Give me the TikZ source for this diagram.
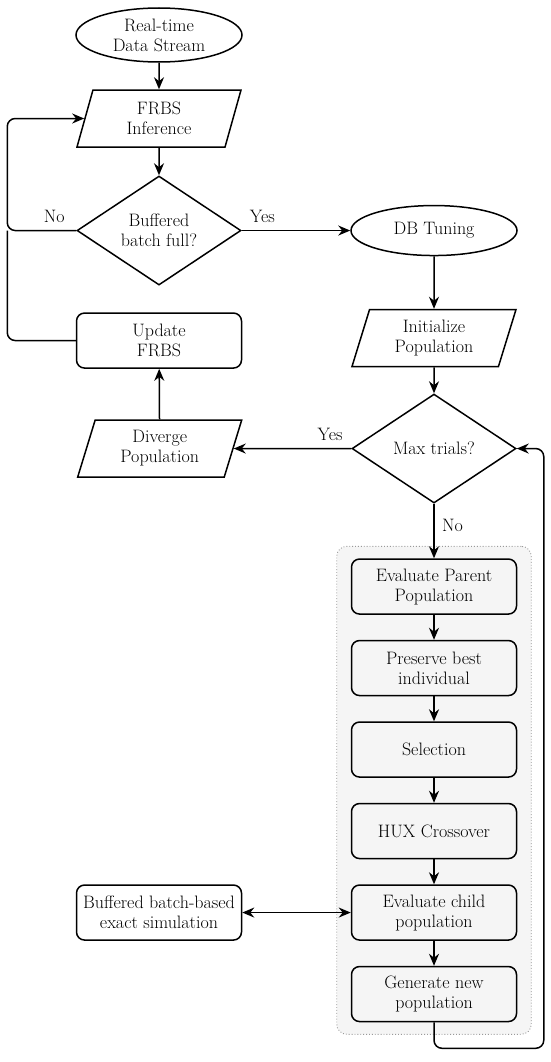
\documentclass[tikz,border=0pt]{standalone}
\usepackage{fontspec}
\usepackage{tikz}
\usetikzlibrary{shapes.geometric, arrows.meta}
\usetikzlibrary{shapes,positioning,fit,backgrounds}
\tikzstyle{arrow} = [line width=1.5pt,->,>={Stealth[length=12pt,width=10pt]}]
\tikzstyle{biarrow} = [line width=1.5pt,<->,>={Stealth[length=12pt,width=10pt]}]
\tikzstyle{line} = [line width=1.5pt]
\tikzstyle{startstop} = [ellipse, draw, line width=1.5pt, minimum width=166pt, inner sep=0pt, align=center]
\tikzstyle{io} = [trapezium, trapezium left angle=64, trapezium right angle=116, trapezium stretches body, draw, line width=1.5pt, minimum width=164pt, minimum height=57pt, inner sep=0pt, align=center]
\tikzstyle{decision} = [diamond, draw, line width=1.5pt, minimum width=164pt, minimum height=109pt, inner sep=0pt, align=center]
\tikzstyle{process} = [rectangle, rounded corners=8pt, draw, line width=1.5pt, minimum width=165pt, minimum height=55pt, align=center]

\begin{document}
\begin{tikzpicture}[x=1pt, y=1pt, every node/.style={font=\fontsize{18}{20}\selectfont}]
    \useasboundingbox (0,0) rectangle (550,-1062);

    % left column
    \node[startstop, minimum height=54pt] (rts) at (159,-35) {Real-time\\Data Stream};
    \node[io, below=26.5pt of rts] (frbs) {FRBS\\Inference};
    \node[decision, below=27.5pt of frbs] (buf) {Buffered\\batch full?};
    \node[process, below=26.5pt of buf] (upd) {Update\\FRBS};

    % right column
    \node[startstop, minimum height=50pt, right=108.5pt of buf] (dbt) {DB Tuning};
    \node[io, below=52.5pt of dbt] (init) {Initialize\\Population};
    \node[decision, below=26pt of init] (maxt) {Max trials?};
    \node[io, left=117.5pt of maxt] (div) {Diverge\\Population};

    % genetic loop
    \node[process, below=54.5pt of maxt] (epp) {Evaluate Parent\\Population};
    \node[process, below=25pt of epp] (pbi) {Preserve best\\individual};
    \node[process, below=25pt of pbi] (sel) {Selection};
    \node[process, below=25pt of sel] (hux) {HUX Crossover};
    \node[process, below=25pt of hux] (ecp) {Evaluate child\\population};
    \node[process, below=25pt of ecp] (gnp) {Generate new\\population};
    \node[process, left=108.5pt of ecp] (bbs) {Buffered batch-based\\exact simulation};

    \begin{scope}[on background layer]
        \node[fit=(epp)(gnp), inner xsep=14pt, inner ysep=12pt, draw=gray!80, line width=0.9pt, dotted, fill=gray!8, rounded corners=10pt] (ga) {};
    \end{scope}

    % connections
    \coordinate[left=69pt of buf.west] (lx);
    \draw[arrow] (rts) -- (frbs);
    \draw[arrow] (frbs) -- (buf);
    \draw[arrow] (buf) -- node[pos=0.19, above=4pt]{Yes} (dbt);
    \draw[arrow, rounded corners=8pt] (buf.west) -- node[pos=0.32, above=4pt]{No} (lx) |- (frbs.west);
    \draw[line, rounded corners=8pt] (upd.west) -| (lx);
    \draw[arrow] (div) -- (upd);

    \draw[arrow] (dbt) -- (init);
    \draw[arrow] (init) -- (maxt);
    \draw[arrow] (maxt) -- node[pos=0.18, above=4pt]{Yes} (div);
    \draw[arrow] (maxt) -- node[pos=0.4, right=4pt]{No} (epp);

    \draw[arrow] (epp) -- (pbi);
    \draw[arrow] (pbi) -- (sel);
    \draw[arrow] (sel) -- (hux);
    \draw[arrow] (hux) -- (ecp);
    \draw[arrow] (ecp) -- (gnp);
    \draw[biarrow] (bbs) -- (ecp);
    \draw[arrow, rounded corners=8pt] (gnp.south) -- ++(0,-26) -| ([xshift=27pt]maxt.east) -- (maxt.east);
\end{tikzpicture}
\end{document}
